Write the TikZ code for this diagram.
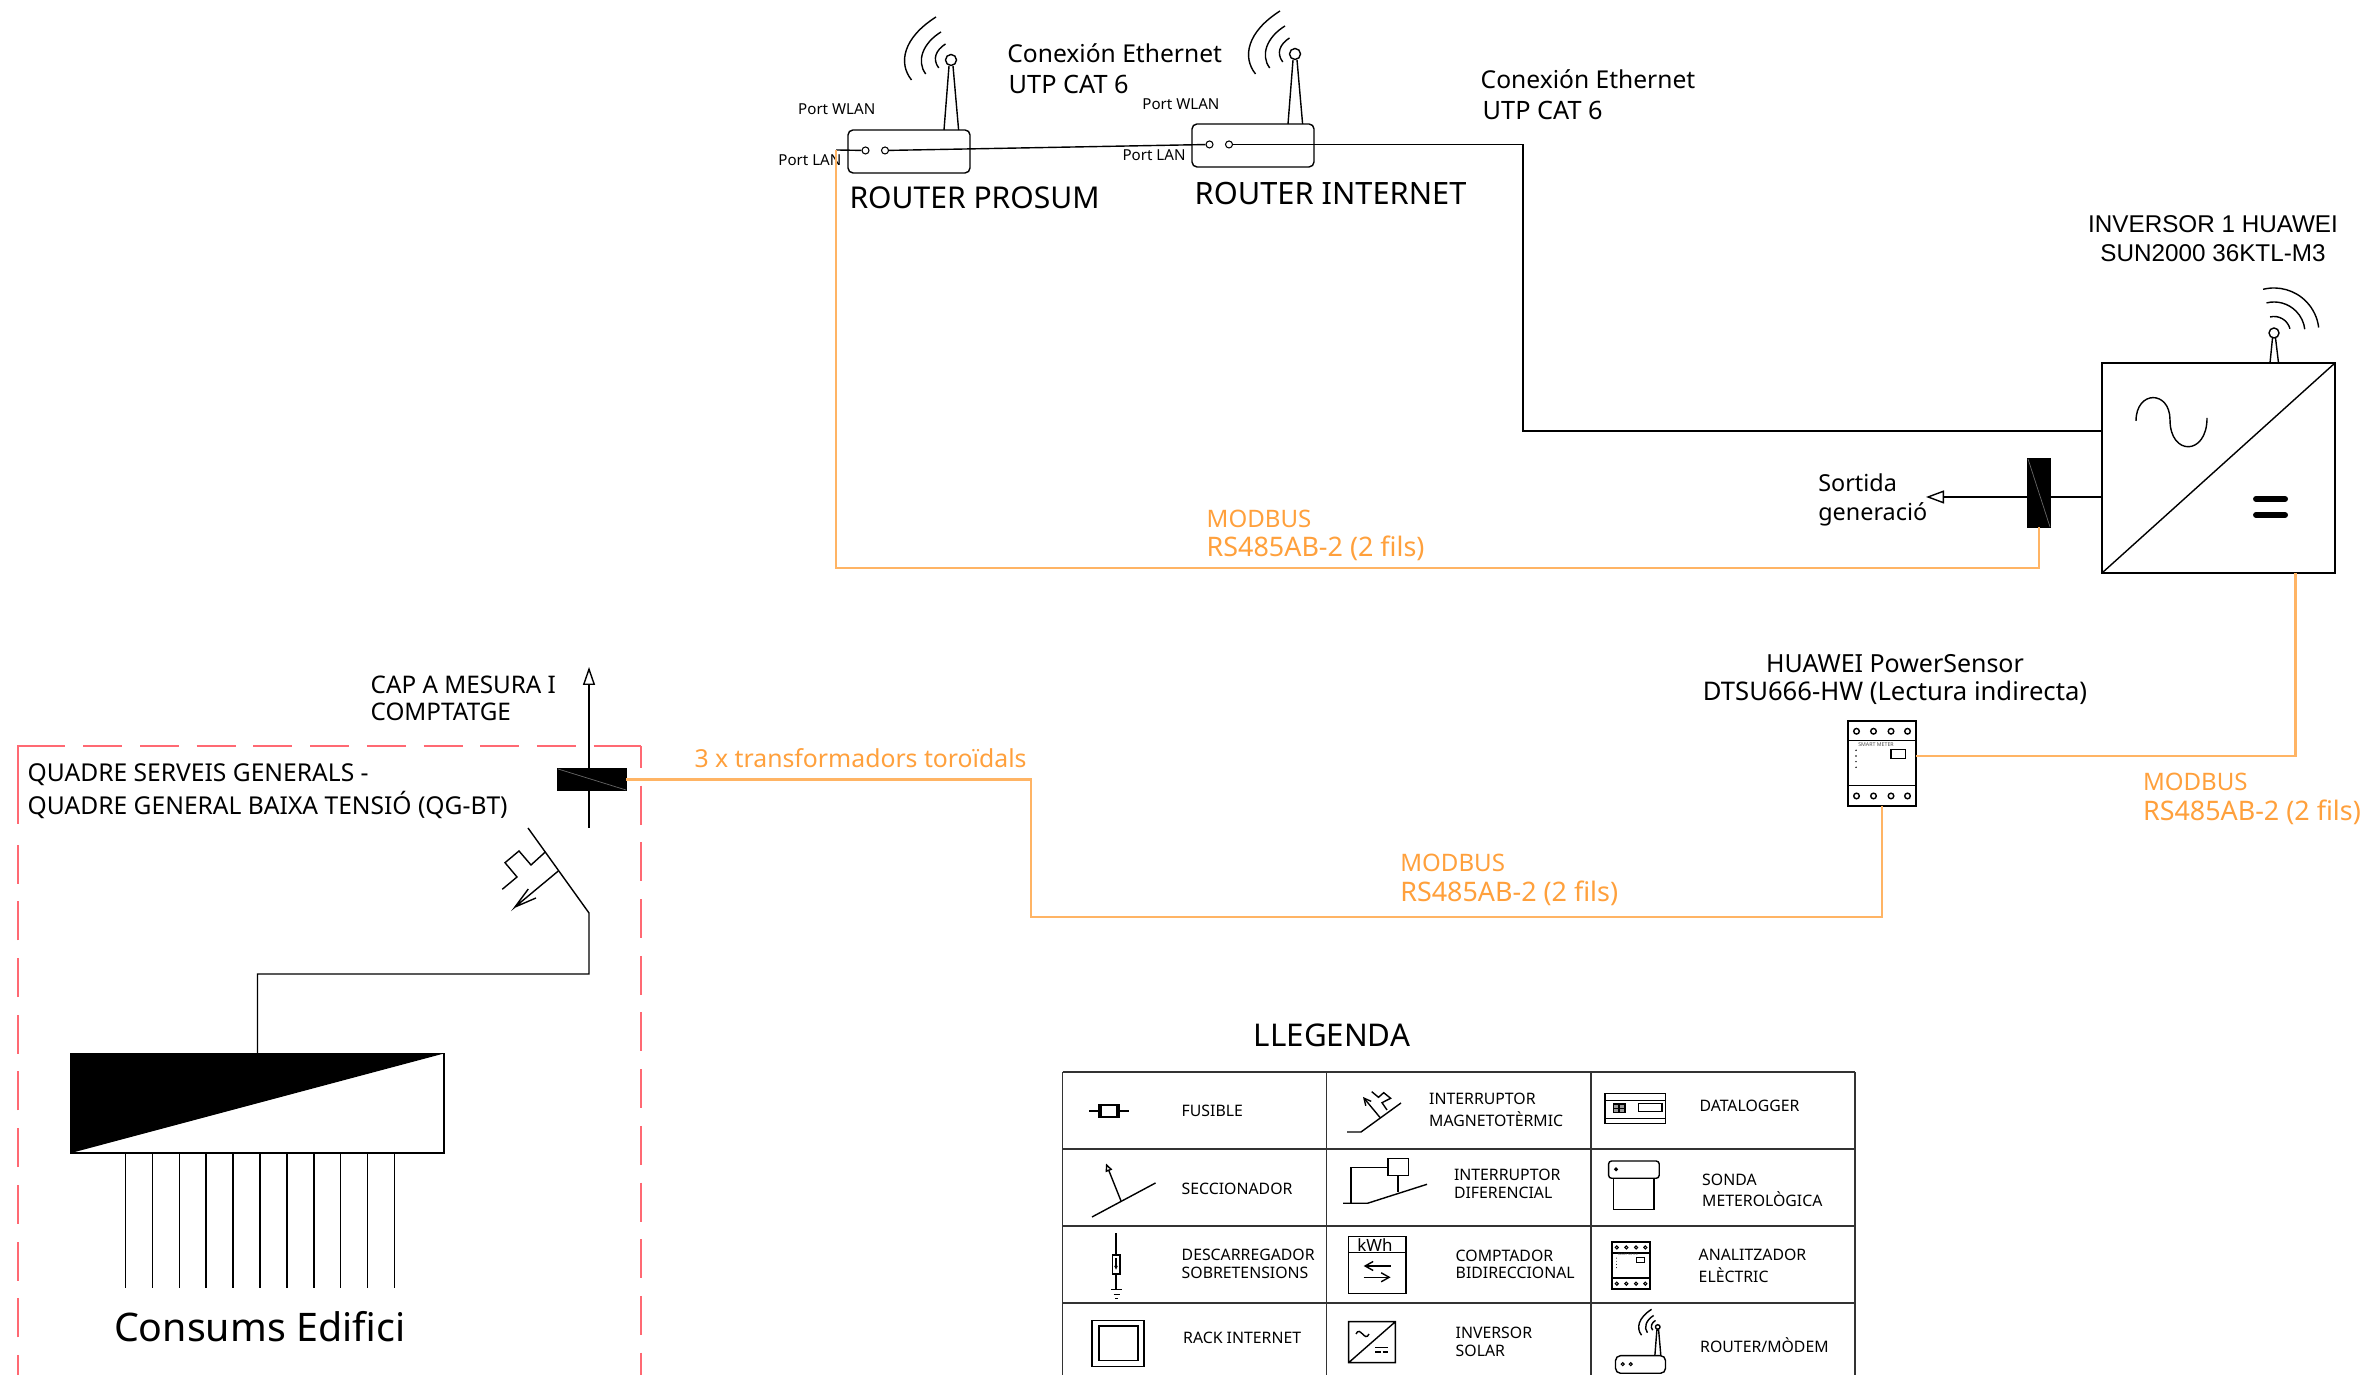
\documentclass[tikz,border=0pt]{standalone}
\usepackage{fontspec}
\setmainfont{Noto Sans}
\newfontfamily\arialfont{Liberation Sans}
\usetikzlibrary{arrows.meta,calc}
\definecolor{naranja}{RGB}{255,160,60}
\definecolor{linnar}{RGB}{255,180,100}
\definecolor{rojo}{RGB}{255,105,115}
\tikzset{
 etq/.style={anchor=west,inner sep=0,text depth=0pt},
 etqC/.style={etq,anchor=center},
 fs/.style={font=\fontsize{#1}{#1}\selectfont,text height={.72*#1 pt}},
 fsA/.style={font=\fontsize{#1}{#1}\selectfont\arialfont,text height={.72*#1 pt}},
 port/.style={draw,circle,fill=white,inner sep=0,minimum size=.07cm,line width=.3pt},
 negro/.style={draw,fill=black,inner sep=0,outer sep=0},
 caja/.style={draw,inner sep=0,outer sep=0},
 bus/.style={line width=.6pt,color=linnar},
 tabla/.style={line width=.5pt,color=black!80},
 fPort/.style={fs=4.3},
 fLeg/.style={fs=4.5},
 fMod/.style={fs=6.85,text=naranja},
 fRs/.style={fs=7.65,text=naranja},
 dashRojo/.style={rojo,line width=.7pt,dash pattern=on .39cm off .177cm},
 router/.pic={
  \draw[rounded corners=.05cm](0,0)rectangle(1.22,.43);
  \node[port](-lan)at(.175,.225){};
  \node[port](-wan)at(.37,.225){};
  \draw(.96,.43)--(1.01,1.07)(1.106,.43)--(1.05,1.07);
  \draw(1.03,1.13)circle(.055);
  \draw[thin](.88,1.56)..controls(.55,1.35)and(.5,1.1)..(.635,.93);
  \draw[thin](.93,1.41)..controls(.75,1.3)and(.68,1.12)..(.777,.99);
  \draw[thin](.975,1.29)..controls(.88,1.23)and(.84,1.14)..(.907,1.05);
 },
 meter/.pic={
  \draw[line width=.6pt](0,0)rectangle(.68,.85);
  \draw[line width=.5pt](0,.204)--(.68,.204)(0,.654)--(.68,.654);
  \draw(.085,.1)circle(.028)(.255,.1)circle(.028)(.43,.1)circle(.028)(.595,.1)circle(.028);
  \draw(.085,.747)circle(.028)(.255,.747)circle(.028)(.43,.747)circle(.028)(.595,.747)circle(.028);
  \draw(.43,.474)rectangle(.575,.564);
  \fill(.08,.557)circle(.008)(.08,.5)circle(.008)(.08,.444)circle(.008)(.08,.387)circle(.008);
  \node[transform shape,inner sep=0,font=\fontsize{1.5}{2}\selectfont,text=black!70](-txt)at(.28,.617){SMART METER};
  \coordinate(-der)at(.68,.5);
  \coordinate(-inf)at(.34,0);
 },
}
\begin{document}
\begin{tikzpicture}[line width=.4pt]
\useasboundingbox(0,0)rectangle(23.7,13.75);
%routers
\draw pic(rp)at(8.48,12.02){router};
\draw pic(ri)at(11.92,12.08){router};
\coordinate(lanEnd)at(8.36,12.25);
\coordinate(bendA)at(15.23,9.44);
\coordinate(invA)at(21.02,9.44);
\draw(lanEnd)--(rp-lan);
\draw(rp-wan)--(ri-lan);
\draw(ri-wan)-|(bendA)--(invA);
\node[etq,fPort](tWlanA)at(7.975,12.66){Port WLAN};
\node[etq,fPort](tLanA)at(7.777,12.15){Port LAN};
\node[etq,fPort](tWlanB)at(11.417,12.707){Port WLAN};
\node[etq,fPort](tLanB)at(11.218,12.20){Port LAN};
\node[etq,fs=7](tConA)at(10.067,13.217){Conexión Ethernet};
\node[etq,fs=7.2](tUtpA)at(10.08,12.91){UTP CAT 6};
\node[etq,fs=7](tConB)at(14.80,12.95){Conexión Ethernet};
\node[etq,fs=7.2](tUtpB)at(14.82,12.65){UTP CAT 6};
\node[etq,fs=8.55](tProsum)at(8.488,11.77){ROUTER PROSUM};
\node[etq,fs=8.75](tInternet)at(11.94,11.82){ROUTER INTERNET};
%inversor
\node[caja,line width=.6pt,minimum width=2.33cm,minimum height=2.1cm,anchor=south west](inv)at(21.02,8.02){};
\draw(inv.south west)--(inv.north east);
\draw(21.36,9.54)..controls(21.36,9.85)and(21.70,9.85)..(21.70,9.55)..controls(21.70,9.19)and(22.07,9.19)..(22.07,9.57);
\draw[line width=1.7pt,line cap=round](22.56,8.76)--(22.85,8.76)(22.56,8.60)--(22.85,8.60);
\draw(22.70,10.12)--(22.725,10.37)(22.785,10.12)--(22.755,10.37);
\node[draw,circle,fill=white,inner sep=0,minimum size=.1cm](invAnt)at(22.74,10.42){};
\draw[thin]([shift={(104:.45)}]invAnt.center)arc(104:7:.45);
\draw[thin]([shift={(104:.31)}]invAnt.center)arc(104:7:.31);
\draw[thin]([shift={(104:.165)}]invAnt.center)arc(104:15:.165);
\node[etqC,fsA=6.9](tInvA)at(22.13,11.517){INVERSOR 1 HUAWEI};
\node[etqC,fsA=6.9](tInvB)at(22.13,11.227){SUN2000 36KTL-M3};
%sortida
\coordinate(invS)at(21.02,8.78);
\coordinate(sortida)at(19.26,8.78);
\draw[-{Triangle[open,length=.18cm,width=.13cm]}](invS)--(sortida);
\node[negro,minimum width=.22cm,minimum height=.68cm,anchor=south west](torS)at(20.28,8.48){};
\draw[very thin,black!60](torS.north west)--(torS.south east);
\node[etq,fs=6.65](tSortA)at(18.176,8.923){Sortida};
\node[etq,fs=6.65](tSortB)at(18.176,8.633){generació};
%modbus
\coordinate(busA)at(8.36,8.07);
\coordinate(invB)at(22.955,8.02);
\draw[bus](torS.south)|-(busA)--(lanEnd);
\node[etq,fMod](tModA)at(12.06,8.566){MODBUS};
\node[etq,fRs](tRsA)at(12.06,8.28){RS485AB-2 (2 fils)};
\node[etq,fMod](tModB)at(21.423,5.933){MODBUS};
\node[etq,fRs](tRsB)at(21.423,5.643){RS485AB-2 (2 fils)};
\node[etq,fMod](tModC)at(13.996,5.12){MODBUS};
\node[etq,fRs](tRsC)at(13.996,4.832){RS485AB-2 (2 fils)};
%powersensor
\draw pic(sens)at(18.48,5.69){meter};
\draw[bus](sens-der)-|(invB);
\node[etqC,fs=7.1](tHuaA)at(18.95,7.11){HUAWEI PowerSensor};
\node[etqC,fs=7.3](tHuaB)at(18.95,6.833){DTSU666-HW (Lectura indirecta)};
%quadre
\draw[dashRojo,dash phase=.19cm](.18,0)--(.18,5.32);
\draw[rojo,line width=.7pt](.18,5.51)--(.18,6.29)--(.65,6.29);
\draw[dashRojo](.833,6.29)--(6.41,6.29);
\draw[rojo,line width=.7pt](6.32,6.29)--(6.41,6.29);
\draw[dashRojo,dash phase=.17cm](6.41,6.29)--(6.41,0);
\coordinate(qgA)at(5.89,5.47);
\coordinate(qgB)at(5.89,7.08);
\coordinate(bendB)at(10.31,4.58);
\draw[-{Triangle[open,length=.18cm,width=.12cm]}](qgA)--(qgB);
\node[negro,minimum width=.68cm,minimum height=.21cm,anchor=south west](torQ)at(5.58,5.85){};
\draw[very thin,black!60](torQ.north west)--(torQ.south east);
\draw[bus](sens-inf)|-(bendB)|-(torQ.east);
\node[etq,fs=7.05,text=naranja](tToro)at(6.938,6.162){3 x transformadors toroïdals};
\node[etq,fs=6.9](tCapA)at(3.70,6.90){CAP A MESURA I};
\node[etq,fs=6.9](tCapB)at(3.70,6.63){COMPTATGE};
\node[etq,fs=7](tQuaA)at(.27,6.026){QUADRE SERVEIS GENERALS -};
\node[etq,fs=7](tQuaB)at(.27,5.694){QUADRE GENERAL BAIXA TENSIÓ (QG-BT)};
%magnetotermic
\node[caja,minimum width=3.73cm,minimum height=.995cm,anchor=south west](cuadro)at(.71,2.22){};
\fill(.71,3.215)--(4.44,3.215)--(.71,2.22)--cycle;
\coordinate(bendC)at(5.89,4.01);
\draw(cuadro.north)|-(bendC)--(5.89,4.62)--(5.28,5.47);
\draw(5.583,5.04)--(5.15,4.68)--(5.283,4.86)(5.15,4.68)--(5.36,4.77);
\draw(5.45,5.227)--(5.31,5.10)--(5.19,5.24)--(5.05,5.123)--(5.17,4.98)--(5.023,4.857);
\draw(1.255,2.22)--(1.255,.87)(1.524,2.22)--(1.524,.87)(1.793,2.22)--(1.793,.87)(2.062,2.22)--(2.062,.87)(2.331,2.22)--(2.331,.87)(2.60,2.22)--(2.60,.87)(2.869,2.22)--(2.869,.87)(3.138,2.22)--(3.138,.87)(3.407,2.22)--(3.407,.87)(3.676,2.22)--(3.676,.87)(3.945,2.22)--(3.945,.87);
\node[etq,fs=11.2](tConsums)at(1.134,.48){Consums Edifici};
%llegenda
\node[etqC,fs=8.9](tLleg)at(13.32,3.40){LLEGENDA};
\draw[tabla](10.625,3.03)--(18.55,3.03)(10.625,2.26)--(18.55,2.26)(10.625,1.49)--(18.55,1.49)(10.625,.72)--(18.55,.72);
\draw[tabla](10.625,3.03)--(10.625,0)(13.265,3.03)--(13.265,0)(15.91,3.03)--(15.91,0)(18.55,3.03)--(18.55,0);
%fusible
\draw(10.89,2.64)--(10.99,2.64)(11.19,2.64)--(11.29,2.64);
\draw(10.99,2.58)rectangle(11.19,2.70)(11.01,2.58)--(11.01,2.70)(11.17,2.58)--(11.17,2.70);
\node[etq,fLeg](lFus)at(11.81,2.64){FUSIBLE};
%seccionador
\draw(10.92,1.58)--(11.555,1.92);
\draw[-{Triangle[open,length=.08cm,width=.07cm]}](11.21,1.74)--(11.06,2.115);
\node[etq,fLeg](lSec)at(11.81,1.86){SECCIONADOR};
%descarregador
\draw(11.16,1.415)--(11.16,.857);
\draw[fill=white](11.125,1.01)rectangle(11.20,1.20);
\draw[-{Latex[length=.04cm,width=.04cm]}](11.16,1.17)--(11.16,1.05);
\draw(11.11,.857)--(11.22,.857)(11.135,.807)--(11.195,.807)(11.15,.763)--(11.176,.763);
\node[etq,fLeg](lDesA)at(11.81,1.20){DESCARREGADOR};
\node[etq,fLeg](lDesB)at(11.81,1.023){SOBRETENSIONS};
%rack
\draw(10.92,.083)rectangle(11.44,.543)(10.99,.143)rectangle(11.38,.49);
\node[etq,fLeg](lRack)at(11.825,.373){RACK INTERNET};
%interruptor magnetotermic
\draw(13.47,2.43)--(13.61,2.43)--(14.01,2.72);
\draw[-{Straight Barb[length=.07cm,width=.07cm]}](13.80,2.575)--(13.63,2.78);
\draw(13.87,2.65)--(13.82,2.723)--(13.906,2.767)--(13.837,2.823)--(13.785,2.777)--(13.717,2.833);
\node[etq,fLeg](lMagA)at(14.285,2.763){INTERRUPTOR};
\node[etq,fLeg](lMagB)at(14.285,2.543){MAGNETOTÈRMIC};
%interruptor diferencial
\draw(13.43,1.717)--(13.675,1.717)--(14.27,1.907);
\draw(13.51,1.717)--(13.51,2.077)--(13.878,2.077);
\draw(13.878,1.993)rectangle(14.085,2.163);
\draw(13.98,1.993)--(13.98,1.827);
\node[etq,fLeg](lDifA)at(14.533,2.00){INTERRUPTOR};
\node[etq,fLeg](lDifB)at(14.533,1.823){DIFERENCIAL};
%comptador
\draw(13.486,.817)rectangle(14.06,1.383)(13.486,1.223)--(14.06,1.223);
\node[etqC,fs=4.8](lKwh)at(13.75,1.30){kWh};
\draw[-{Straight Barb[length=.08cm,width=.09cm]}](13.906,1.09)--(13.637,1.09);
\draw[-{Straight Barb[length=.08cm,width=.09cm]}](13.637,.977)--(13.906,.977);
\node[etq,fLeg](lComA)at(14.55,1.193){COMPTADOR};
\node[etq,fLeg](lComB)at(14.55,1.017){BIDIRECCIONAL};
%inversor
\draw(13.486,.123)rectangle(13.954,.533)(13.486,.123)--(13.954,.533);
\draw(13.56,.41)..controls(13.60,.50)and(13.65,.32)..(13.69,.41);
\draw(13.75,.277)--(13.88,.277);
\draw[dash pattern=on .055cm off .02cm](13.75,.23)--(13.88,.23);
\node[etq,fLeg](lInvA)at(14.55,.423){INVERSOR};
\node[etq,fLeg](lInvB)at(14.55,.243){SOLAR};
%datalogger
\draw(16.05,2.517)rectangle(16.654,2.817)(16.05,2.743)--(16.654,2.743)(16.05,2.567)--(16.654,2.567);
\draw[fill=black!40](16.134,2.623)rectangle(16.248,2.71)(16.134,2.667)--(16.248,2.667)(16.19,2.623)--(16.19,2.71);
\draw(16.385,2.633)rectangle(16.62,2.717);
\node[etq,fLeg](lDat)at(16.988,2.693){DATALOGGER};
%sonda
\draw[rounded corners=.03cm](16.086,1.967)rectangle(16.592,2.14);
\draw(16.137,1.967)--(16.137,1.657)--(16.54,1.657)--(16.54,1.967);
\draw(16.16,2.057)circle(.012);
\node[etq,fLeg](lSonA)at(17.015,1.95){SONDA};
\node[etq,fLeg](lSonB)at(17.015,1.743){METEROLÒGICA};
%analitzador
\draw pic[scale=.56,line width=.3pt](anLeg)at(16.12,.857){meter};
\node[etq,fLeg](lAnaA)at(16.98,1.20){ANALITZADOR};
\node[etq,fLeg](lAnaB)at(16.98,.983){ELÈCTRIC};
%router legend
\draw pic[scale=.41,port/.append style={minimum size=.03cm}](roLeg)at(16.155,.017){router};
\node[etq,fLeg](lRou)at(16.995,.283){ROUTER/MÒDEM};
\end{tikzpicture}
\end{document}
